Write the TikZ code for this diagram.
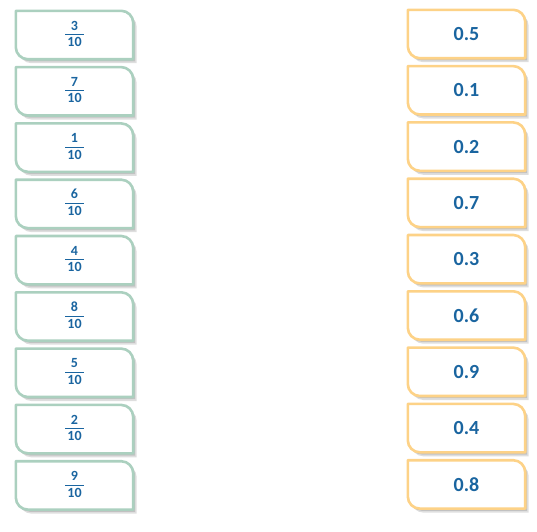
\documentclass[tikz,border=0pt]{standalone}
\usepackage{fontspec}
\setmainfont{Carlito}
\usetikzlibrary{backgrounds}
\definecolor{cardgreen}{HTML}{ABD0BF}
\definecolor{cardorange}{HTML}{FDD287}
\definecolor{numblue}{HTML}{1A65A0}
\tikzset{
  card/.style={minimum width=117pt,minimum height=48pt,inner sep=0pt,text=numblue,font=\bfseries},
  fraccard/.style={card,font=\bfseries\fontsize{14}{14}\selectfont},
  deccard/.style={card,font=\bfseries\fontsize{20}{22}\selectfont},
  cardshadow/.style={fill=black,opacity=0.13,transform canvas={shift={(#1)}}},
  cardline/.style={draw=#1,fill=white,line width=2.6pt,line join=round}
}
\newcommand{\cardpath}[1]{(#1.north west) -- ([xshift=-12pt]#1.north east)
  .. controls ([xshift=-5.4pt]#1.north east) and ([yshift=-5.4pt]#1.north east) .. ([yshift=-12pt]#1.north east)
  -- (#1.south east) -- ([xshift=12pt]#1.south west)
  .. controls ([xshift=5.4pt]#1.south west) and ([yshift=5.4pt]#1.south west) .. ([yshift=12pt]#1.south west) -- cycle}
\newcommand{\tenth}[1]{{\setlength{\arrayrulewidth}{0.8pt}\renewcommand{\arraystretch}{1.2}%
  \begin{tabular}{@{\,}c@{\,}}#1\\[-1pt]\hline 10\end{tabular}}}
\begin{document}
\begin{tikzpicture}[x=1pt,y=-1pt]
\useasboundingbox (0,0) rectangle (537,531);
% fractions
\foreach \t [count=\i from 0] in {3,7,1,6,4,8,5,2,9}
  \node[fraccard] (l\i) at (74.5,{35+56.3*\i}) {\tenth{\t}};
% decimals
\foreach \t [count=\i from 0] in {0.5,0.1,0.2,0.7,0.3,0.6,0.9,0.4,0.8}
  \node[deccard] (r\i) at (466.5,{34+56.3*\i}) {\t};
\begin{scope}[on background layer]
\foreach \i in {0,...,8} {
  \fill[cardshadow={3.5pt,-4pt}] \cardpath{l\i};
  \fill[cardshadow={2pt,-2.2pt}] \cardpath{l\i};
  \path[cardline=cardgreen] \cardpath{l\i};
  \fill[cardshadow={3.5pt,-4pt}] \cardpath{r\i};
  \fill[cardshadow={2pt,-2.2pt}] \cardpath{r\i};
  \path[cardline=cardorange] \cardpath{r\i};
}
\end{scope}
\end{tikzpicture}
\end{document}
